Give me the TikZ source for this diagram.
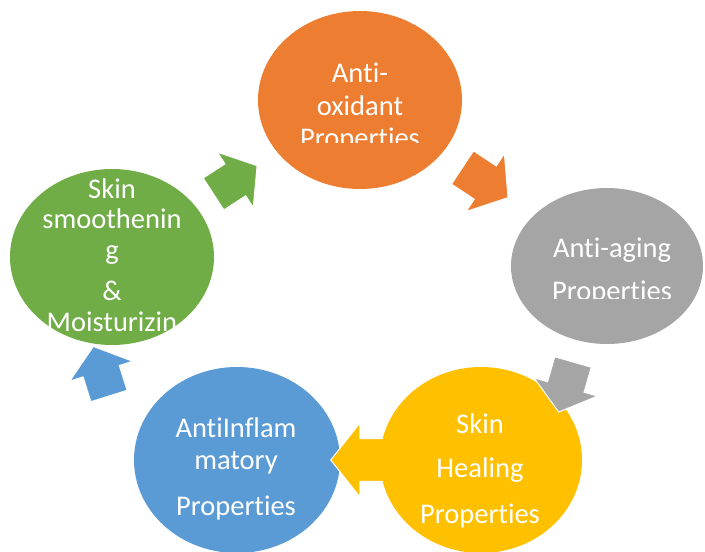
\documentclass[tikz,border=0pt]{standalone}
\usepackage{fontspec}
\setmainfont{Carlito}[Ligatures=NoCommon]
\usetikzlibrary{positioning, shapes.geometric}

\definecolor{oxorange}{HTML}{ED7D31}
\definecolor{aginggray}{HTML}{A5A5A5}
\definecolor{healyellow}{HTML}{FFC000}
\definecolor{inflamblue}{HTML}{5B9BD5}
\definecolor{smoothgreen}{HTML}{70AD47}

\tikzset{
  bubble/.style={ellipse, inner sep=0pt, minimum width=204pt, minimum height=178pt},
  cyclelabel/.style={text=white, align=center, anchor=base, inner sep=0pt,
                     font=\fontsize{28.5}{31.5}\selectfont}
}

% block arrow of the cycle: colour, back midpoint, direction
\newcommand{\cyclearrow}[4][1]{%
  \fill[#2, draw=white, line width=1pt, shift={(#3)}, rotate=#4, scale=#1]
    (0,-19) -- (26,-19) -- (26,-33) -- (52,0) -- (26,33) -- (26,19) -- (0,19) -- cycle;}

\begin{document}
\begin{tikzpicture}[x=1pt, y=-1pt]

    \clip (0,0) rectangle (705,552);

    % the property bubbles
    \node[bubble, fill=oxorange] (oxidant) at (360,100) {};
    \node[bubble, fill=aginggray, minimum width=192pt, minimum height=156pt] (aging) at (607,266) {};
    \node[bubble, fill=inflamblue, minimum width=206pt, minimum height=186pt] (inflam) at (237,460) {};
    \node[bubble, fill=smoothgreen, minimum height=176pt] (smooth) at (112,257) {};
    % yellow arrow sits on the blue bubble, its tail under the yellow one
    \cyclearrow[1.12]{healyellow}{389,460}{180}
    \node[bubble, fill=healyellow, minimum width=202pt, minimum height=186pt] (healing) at (481,460) {};

    % labels (anchored on the last line), cut off where the text box ends
    \begin{scope}
        \clip (260,40) rectangle (460,142);
        \node[cyclelabel, font=\fontsize{28.5}{32.5}\selectfont] (oxidanttext) at (360,147.5)
            {Anti-\\oxidant\\Properties};
    \end{scope}
    \begin{scope}
        \clip (515,200) rectangle (705,298);
        \node[cyclelabel] (agingtext) at (612,300) {Anti-aging\\[11.5pt]Properties};
    \end{scope}
    \node[cyclelabel] (healingtext) at (480,523) {Skin\\[12.5pt]Healing\\[14.5pt]Properties};
    \node[cyclelabel] (inflamtext) at (236,515) {AntiInflam\\matory\\[14.5pt]Properties};
    \begin{scope}
        \clip (10,165) rectangle (215,332);
        \node[cyclelabel, font=\fontsize{28.5}{30.5}\selectfont] (smoothtext) at (112,331)
            {Skin\\smoothenin\\g\\[11pt]\&\\Moisturizin};
    \end{scope}

    % arrows round the cycle
    \cyclearrow{smoothgreen}{213.5,194}{33}
    \cyclearrow[1.05]{oxorange}{462.5,167.5}{-33.5}
    \cyclearrow{aginggray}{573,362}{-106}
    \cyclearrow{inflamblue}{109,396}{107.5}

\end{tikzpicture}
\end{document}
